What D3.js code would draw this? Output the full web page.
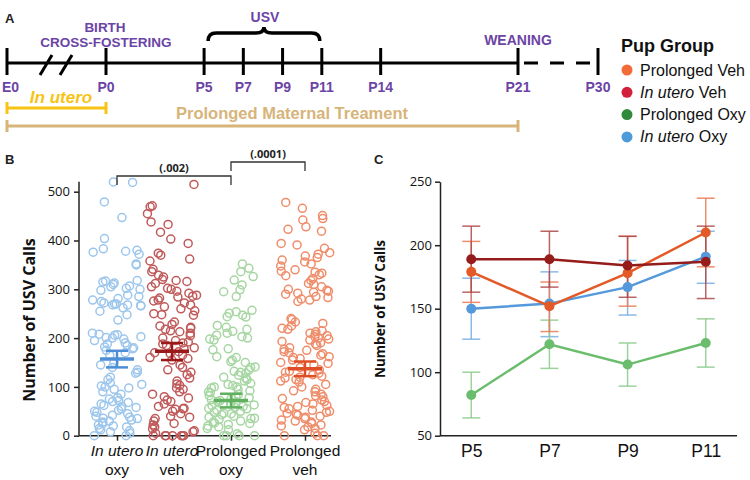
<!DOCTYPE html>
<html><head><meta charset="utf-8">
<script src="https://cdn.jsdelivr.net/npm/d3@7"></script>
<style>body{margin:0;background:#fff}svg{display:block}</style>
</head><body><svg id="c" width="750" height="480"></svg>
<script>
// ---------- DATA ----------
const timelineLabels = ["E0","P0","P5","P7","P9","P11","P14","P21","P30"];
const timelineDays = [-21,0,5,7,9,11,14,21,30];

const legendGroups = ["Prolonged Veh","In utero Veh","Prolonged Oxy","In utero Oxy"];

const bGroups = ["In utero oxy","In utero veh","Prolonged oxy","Prolonged veh"];
const bTicks = [0,100,200,300,400,500];
const inUteroOxy = [520,519,479,447,404,383,380,378,376,372,352,350,318,317,315,313,310,307,305,302,300,298,288,285,281,278,275,272,270,270,268,268,267,266,262,255,248,237,210,208,207,206,203,201,200,198,195,190,188,185,182,180,178,175,170,165,150,145,140,135,130,128,120,115,108,105,102,100,98,95,90,85,78,75,72,70,68,65,62,60,58,55,52,50,48,45,42,40,38,36,35,32,30,28,25,22,20,18,15,12,10,8,5,0,0];
const inUteroVeh = [515,471,469,455,438,433,417,403,394,374,370,362,358,341,336,329,325,320,318,316,312,305,302,300,296,292,288,286,284,282,278,276,272,268,264,260,256,250,248,247,233,228,225,222,220,218,215,213,210,205,200,195,192,190,188,185,180,178,172,170,168,165,160,158,155,145,140,135,130,125,118,112,106,103,98,95,90,85,80,77,73,70,65,60,56,55,54,50,45,40,38,35,30,25,22,18,14,10,8,5,0,0,0,0,0,0,0];
const prolongedOxy = [352,343,336,326,319,309,299,295,285,257,254,251,247,244,243,226,222,218,214,210,206,203,200,198,196,178,176,162,160,155,152,150,141,140,135,132,130,128,124,120,118,115,112,107,105,103,100,100,98,95,92,90,88,85,82,80,78,76,74,72,70,68,65,63,65,62,60,58,56,55,52,50,48,46,45,43,40,38,36,35,33,30,28,26,25,23,20,18,15,12,4,0,0,0,0];
const prolongedVeh = [478,466,451,445,442,428,423,419,394,391,384,375,372,368,365,360,356,352,348,340,337,335,333,330,328,322,318,312,310,305,300,298,296,294,292,290,285,283,280,278,275,240,238,233,230,225,220,218,215,213,210,208,205,203,200,198,196,193,190,188,185,180,177,175,172,170,168,165,162,160,158,155,150,148,145,140,135,132,130,128,125,122,120,118,115,112,110,105,100,95,92,90,85,82,80,76,73,70,68,65,62,60,58,55,52,50,48,46,44,42,40,38,35,32,30,28,25,22,20,18,15,12,5,0,0,0];
const bMeans = [157,173,72,137];
const bSemLow = [140,155,58,122];
const bSemHigh = [174,190,86,152];

const cDays = ["P5","P7","P9","P11"];
const cTicks = [50,100,150,200,250];
const cBlueMean = [150,154,167,191], cBlueLow = [126,128,145,170], cBlueHigh = [174,179,188,211];
const cGreenMean = [82,122,106,123], cGreenLow = [64,103,89,104], cGreenHigh = [100,141,123,142];
const cOrangeMean = [179,152,178,210], cOrangeLow = [155,132,152,183], cOrangeHigh = [203,171,207,237];
const cRedMean = [189,189,184,187], cRedLow = [163,167,159,158], cRedHigh = [215,211,207,215];

// ---------- DRAW ----------
const svg = d3.select("#c");
svg.append("rect").attr("width",750).attr("height",480).attr("fill","#fff");
const PURPLE = "#6b44a6", SANS = "'Liberation Sans', Arial, sans-serif", OS = "'Open Sans', 'DejaVu Sans', sans-serif";

[["A",5,23],["B",5,164],["C",374,164]].forEach(([t,x,y])=>svg.append("text").attr("x",x).attr("y",y).text(t)
  .attr("font-family",SANS).attr("font-weight","bold").attr("font-size",13).attr("fill","#222"));

// ---- Panel A: timeline ----
const tx = d3.scaleLinear().domain([-21,0,21,30]).range([7,106,518,598]);
const ty = 63;
const gA = svg.append("g");
gA.append("line").attr("x1",tx(-21)).attr("x2",tx(21)).attr("y1",ty).attr("y2",ty).attr("stroke","#000").attr("stroke-width",3);
gA.append("line").attr("x1",tx(21)).attr("x2",tx(30)).attr("y1",ty).attr("y2",ty).attr("stroke","#000").attr("stroke-width",3).attr("stroke-dasharray","14,12").attr("stroke-dashoffset",-6);
[0,1].forEach(i=>{
  const cx = tx(-21) + 39 + i*20;
  gA.append("line").attr("x1",cx-6).attr("y1",ty+12).attr("x2",cx+6).attr("y2",ty-8).attr("stroke","#000").attr("stroke-width",3);
});
timelineDays.forEach((d,i)=>{
  gA.append("line").attr("x1",tx(d)).attr("x2",tx(d)).attr("y1",ty-15).attr("y2",ty+12).attr("stroke","#000").attr("stroke-width",3);
  gA.append("text").attr("x",tx(d)+(i===0?-5:0)).attr("y",ty+29).attr("text-anchor",i===0?"start":"middle").text(timelineLabels[i])
    .attr("font-family",SANS).attr("font-weight","bold").attr("font-size",14).attr("fill",PURPLE);
});
const purpleText=(t,x,y,fs)=>gA.append("text").attr("x",x).attr("y",y).attr("text-anchor","middle").text(t)
  .attr("font-family",SANS).attr("font-weight","bold").attr("font-size",fs||14).attr("fill",PURPLE);
purpleText("BIRTH",tx(0)-1,32,13.5);
purpleText("CROSS-FOSTERING",tx(0),47,13.5);
purpleText("USV",(tx(5)+tx(11))/2+2,22);
purpleText("WEANING",tx(21),45);
{
  const x1=tx(5)+4, x2=tx(11)-2, xm=(x1+x2)/2, yb=33;
  gA.append("path").attr("d",`M${x1},${yb+8} Q${x1},${yb} ${x1+8},${yb} L${xm-8},${yb} Q${xm},${yb} ${xm},${yb-6} Q${xm},${yb} ${xm+8},${yb} L${x2-8},${yb} Q${x2},${yb} ${x2},${yb+8}`)
    .attr("fill","none").attr("stroke","#000").attr("stroke-width",3.5);
}
const bar=(x1,x2,y,col)=>{
  gA.append("line").attr("x1",x1).attr("x2",x2).attr("y1",y).attr("y2",y).attr("stroke",col).attr("stroke-width",3);
  [x1,x2].forEach(x=>gA.append("line").attr("x1",x).attr("x2",x).attr("y1",y-6).attr("y2",y+6).attr("stroke",col).attr("stroke-width",3));
};
bar(tx(-21),tx(0),108,"#f7c414");
gA.append("text").attr("x",61).attr("y",103).attr("text-anchor","middle").text("In utero")
  .attr("font-family",SANS).attr("font-weight","bold").attr("font-style","italic").attr("font-size",17).attr("fill","#f7c414");
bar(tx(-21),tx(21),126,"#d7b47a");
gA.append("text").attr("x",292).attr("y",119).attr("text-anchor","middle").text("Prolonged Maternal Treament")
  .attr("font-family",SANS).attr("font-weight","bold").attr("font-size",16.5).attr("fill","#d7b47a");

// legend
const legColors = ["#f26b38","#d21f3c","#2f8a3c","#4d9bd8"];
svg.append("text").attr("x",621).attr("y",52).text("Pup Group").attr("font-family",SANS).attr("font-weight","bold").attr("font-size",18).attr("fill","#111");
legendGroups.forEach((g,i)=>{
  const y = 70 + i*22.3;
  svg.append("circle").attr("cx",627).attr("cy",y).attr("r",5.5).attr("fill",legColors[i]);
  const t = svg.append("text").attr("x",640).attr("y",y+5.5).attr("font-family",SANS).attr("font-size",16).attr("fill","#111");
  if (g.startsWith("In utero")) {
    t.append("tspan").attr("font-style","italic").text("In utero");
    t.append("tspan").text(g.slice(8));
  } else t.text(g);
});

// ---- Panel B ----
const bY = d3.scaleLinear().domain([0,500]).range([435.7,191.7]);
const bXi = d3.scaleLinear().domain([0,1,2,3]).range([117,172,231,305]);
const bX = g => bXi(bGroups.indexOf(g));
const gB = svg.append("g");
const bAxisY = gB.append("g").attr("transform","translate(79,0)").call(d3.axisLeft(bY).tickValues(bTicks).tickSize(5).tickSizeOuter(0));
bAxisY.select(".domain").attr("d","M0,181.7V435.7");
const bAxisX = gB.append("g").attr("transform","translate(0,435.7)").call(d3.axisBottom(bXi).tickValues([0,1,2,3]).tickSize(5).tickSizeOuter(0).tickFormat(""));
bAxisX.select(".domain").attr("d","M79,0H331");
[bAxisY,bAxisX].forEach(a=>{a.selectAll("path,line").attr("stroke","#222").attr("stroke-width",1.5);});
bAxisY.selectAll("text").attr("font-family",OS).attr("font-size",13).attr("fill","#111").attr("dx",-1);
bGroups.forEach(g=>{
  const parts = g.startsWith("In utero") ? ["In utero", g.slice(9)] : ["Prolonged", g.slice(10)];
  gB.append("text").attr("x",bX(g)).attr("y",456).attr("text-anchor","middle").text(parts[0])
    .attr("font-family",SANS).attr("font-size",15.5).attr("font-style",g.startsWith("In utero")?"italic":"normal").attr("fill","#111");
  gB.append("text").attr("x",bX(g)).attr("y",475).attr("text-anchor","middle").text(parts[1])
    .attr("font-family",SANS).attr("font-size",15.5).attr("fill","#111");
});
gB.append("text").attr("transform","translate(35,320) rotate(-90)").attr("text-anchor","middle").text("Number of USV Calls")
  .attr("font-family",OS).attr("font-weight","bold").attr("font-size",16).attr("fill","#111");

const bSets = [inUteroOxy,inUteroVeh,prolongedOxy,prolongedVeh];
const bPtCol = ["#9dc6ec","#c05a5a","#a7d6a3","#ef8d6b"];
const bMeanCol = ["#4d8fd6","#9a1a1a","#5fb05f","#de4f26"];
const rng = d3.randomLcg(0.4217);
const jit = d3.randomUniform.source(rng)(-25,25);
bSets.forEach((vals,gi)=>{
  const cx = bX(bGroups[gi]);
  gB.append("g").selectAll("circle").data(vals).join("circle")
    .attr("cx",()=>cx+jit()).attr("cy",d=>bY(d)).attr("r",4)
    .attr("fill","none").attr("stroke",bPtCol[gi]).attr("stroke-width",1.5);
});
bMeans.forEach((m,gi)=>{
  const cx = bX(bGroups[gi]), c = bMeanCol[gi];
  gB.append("line").attr("x1",cx).attr("x2",cx).attr("y1",bY(bSemLow[gi])).attr("y2",bY(bSemHigh[gi])).attr("stroke",c).attr("stroke-width",2.5);
  [bSemLow[gi],bSemHigh[gi]].forEach(v=>gB.append("line").attr("x1",cx-11).attr("x2",cx+11).attr("y1",bY(v)).attr("y2",bY(v)).attr("stroke",c).attr("stroke-width",2.5));
  gB.append("line").attr("x1",cx-17).attr("x2",cx+17).attr("y1",bY(m)).attr("y2",bY(m)).attr("stroke",c).attr("stroke-width",3.5);
});
const sig=(a,b,y,lab)=>{
  const x1=bX(bGroups[a]), x2=bX(bGroups[b]);
  gB.append("path").attr("d",`M${x1},${y+9}V${y}H${x2}V${y+9}`).attr("fill","none").attr("stroke","#333").attr("stroke-width",1.3);
  gB.append("text").attr("x",(x1+x2)/2).attr("y",y-4).attr("text-anchor","middle").text(lab)
    .attr("font-family",OS).attr("font-weight","bold").attr("font-size",11).attr("fill","#222");
};
sig(0,2,176,"(.002)");
sig(2,3,162,"(.0001)");

// ---- Panel C ----
const cY = d3.scaleLinear().domain([50,250]).range([435.7,181.7]);
const cX = d3.scalePoint().domain(cDays).range([440,737]).padding(0.4);
const gC = svg.append("g");
const cAxisY = gC.append("g").attr("transform","translate(440,0)").call(d3.axisLeft(cY).tickValues(cTicks).tickSize(5).tickSizeOuter(0));
const cAxisX = gC.append("g").attr("transform","translate(0,435.7)").call(d3.axisBottom(cX).tickSize(0).tickSizeOuter(0));
cAxisX.select(".domain").attr("d","M440,0H737");
[cAxisY,cAxisX].forEach(a=>{a.selectAll("path,line").attr("stroke","#222").attr("stroke-width",1.5);});
cAxisY.selectAll("text").attr("font-family",OS).attr("font-size",13).attr("fill","#111");
cAxisX.selectAll("text").attr("font-family",SANS).attr("font-size",17.5).attr("fill","#111").attr("dy","1.05em");
gC.append("text").attr("transform","translate(385,309) rotate(-90)").attr("text-anchor","middle").text("Number of USV Calls")
  .attr("font-family",OS).attr("font-weight","bold").attr("font-size",13.5).attr("fill","#111");

const cSeries = [
  {m:cBlueMean,lo:cBlueLow,hi:cBlueHigh,c:"#5499dc",e:"#78aee4"},
  {m:cGreenMean,lo:cGreenLow,hi:cGreenHigh,c:"#6abd6c",e:"#8bcc8c"},
  {m:cOrangeMean,lo:cOrangeLow,hi:cOrangeHigh,c:"#e35a28",e:"#ec7a55"},
  {m:cRedMean,lo:cRedLow,hi:cRedHigh,c:"#961b1b",e:"#b04848"}
];
cSeries.forEach(s=>{
  cDays.forEach((d,i)=>{
    const x=cX(d);
    gC.append("line").attr("x1",x).attr("x2",x).attr("y1",cY(s.lo[i])).attr("y2",cY(s.hi[i])).attr("stroke",s.e).attr("stroke-width",1.5).attr("opacity",0.85);
    [s.lo[i],s.hi[i]].forEach(v=>gC.append("line").attr("x1",x-9).attr("x2",x+9).attr("y1",cY(v)).attr("y2",cY(v)).attr("stroke",s.e).attr("stroke-width",1.5).attr("opacity",0.85));
  });
});
cSeries.forEach(s=>{
  gC.append("path").datum(s.m).attr("fill","none").attr("stroke",s.c).attr("stroke-width",2.5)
    .attr("d",d3.line().x((d,i)=>cX(cDays[i])).y(d=>cY(d)));
  gC.append("g").selectAll("circle").data(s.m).join("circle")
    .attr("cx",(d,i)=>cX(cDays[i])).attr("cy",d=>cY(d)).attr("r",5).attr("fill",s.c);
});
</script></body></html>
